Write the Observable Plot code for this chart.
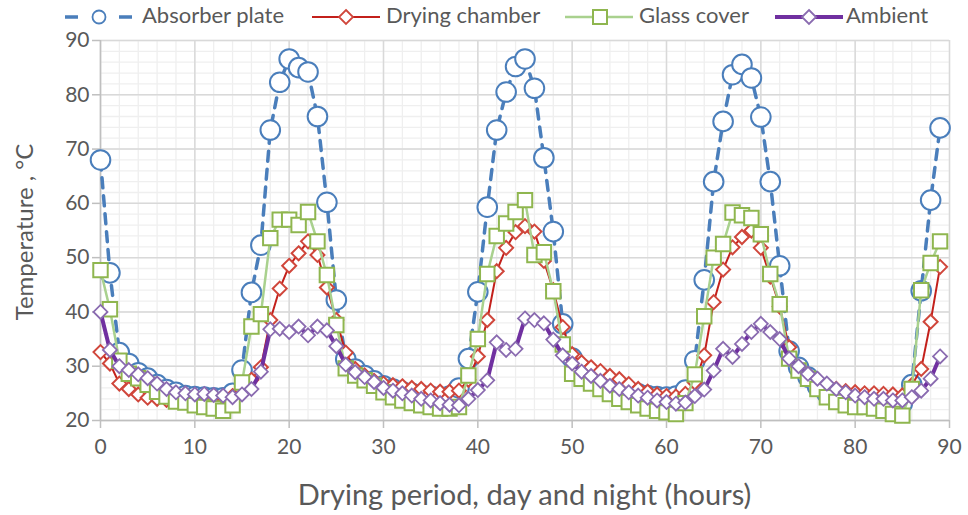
<!DOCTYPE html>
<html><head><meta charset="utf-8">
<script src="https://cdn.jsdelivr.net/npm/d3@7"></script>
<script src="https://cdn.jsdelivr.net/npm/@observablehq/plot@0.6"></script>
<style>
body{margin:0;background:#fff;font-family:Lato,"Open Sans",sans-serif;}
#wrap{position:relative;width:968px;height:515px;overflow:hidden;}
#legend{position:absolute;left:0;top:0;width:968px;height:36px;}
.lg{position:absolute;top:2px;font-size:22px;color:#595959;line-height:26px;white-space:nowrap;}
.sym{position:absolute;top:6px;}
#xtitle{position:absolute;left:100px;width:849px;top:476px;text-align:center;font-size:29px;line-height:36px;color:#595959;white-space:nowrap;}
#ytitle{position:absolute;left:23px;top:232px;transform:translate(-50%,-50%) rotate(-90deg);font-size:24px;color:#595959;white-space:nowrap;}
</style></head><body>
<div id="wrap"><div id="chart"></div><div id="legend"></div><div id="xtitle"></div><div id="ytitle"></div></div>
<script>
const hours = [0,1,2,3,4,5,6,7,8,9,10,11,12,13,14,15,16,17,18,19,20,21,22,23,24,25,26,27,28,29,30,31,32,33,34,35,36,37,38,39,40,41,42,43,44,45,46,47,48,49,50,51,52,53,54,55,56,57,58,59,60,61,62,63,64,65,66,67,68,69,70,71,72,73,74,75,76,77,78,79,80,81,82,83,84,85,86,87,88,89];
const absorberPlate = [68,47.2,32.5,30.5,28.8,27.8,26.6,25.7,25.2,24.6,24.4,24.3,24.2,24.2,25,29.3,43.6,52.3,73.5,82.3,86.6,85,84.2,76,60.2,42.2,31.3,29.5,28.3,27.3,26.4,25.8,25.3,25,24.7,24.5,24.3,24.5,26,31.4,43.7,59.3,73.5,80.5,85.2,86.6,81.2,68.4,54.8,37.8,31.5,29.5,28.3,27.3,26.5,25.8,25.3,24.9,24.6,24.4,24.3,24.5,25.6,31,45.9,64,75.1,83.7,85.6,83.1,75.9,64,48.5,32.8,29.8,28,26.3,25,24.2,23.5,23.2,23,22.8,22.8,22.8,23.2,26.6,43.9,60.6,73.9];
const dryingChamber = [32.6,30.5,26.8,25.8,24.8,24.2,24,23.8,23.8,23.8,24,24,24.2,24.2,24.5,25.5,27.5,29.8,38.5,44.3,48.5,50.8,53,50.5,44.5,38.5,32.5,29.5,28.3,27.3,26.8,26.5,26.3,26,25.8,25.5,25.3,25.3,25.5,27.5,31.8,38.5,47.5,51.8,54.7,55.8,54.8,49.4,44,37.2,32.2,30.7,29.8,29.1,28.2,27.6,26.7,25.8,25.3,24.8,24.5,24.4,24.9,27,32,41.8,47.8,51.9,53.8,55,51.8,46.5,41,33.5,29.8,28.5,27.5,26.5,25.8,25.4,25.2,25,25,24.9,24.8,24.6,26.5,29.5,38.2,48.3];
const glassCover = [47.7,40.5,31,28.6,27.8,26.6,25.3,24.4,23.5,23.3,22.8,22.5,22.2,21.8,22.8,27,37.3,39.6,53.6,57,57,56,58.4,53,46.8,37.6,29.6,28.3,27.4,26.4,25.2,24.3,23.7,23.2,22.8,22.5,22.2,22.2,22.5,28.3,35,47,54,56.3,58.4,60.6,50.5,51,43.8,34,28.6,27.7,26.8,25.8,24.9,24,23.4,22.8,22.2,21.8,21.5,21.2,23.2,28.5,39.2,50,52.5,58.3,57.8,57.3,54.3,47,41.4,31.4,29.2,27.7,25.8,24.3,23.4,22.8,22.5,22.5,22.2,21.8,21.2,20.9,25.8,44,49,53];
const ambient = [40,33,30,29.3,28.5,27.8,26.8,25.8,25.2,25,24.8,24.9,24.7,24.6,24.3,24.8,25.8,29,36.8,36.9,36.3,37.3,35.7,37.3,36.6,33.7,30.3,28.9,28,27.1,26,25.5,25,24.6,24,23.7,23.2,22.9,22.8,24,25.6,27.4,34.4,33,33.2,38.8,38.5,37.9,34.9,32,30.5,29,28.2,27.3,26.4,25.8,25.2,24.6,24.2,23.7,23.4,23.1,23.3,24.5,25.7,29.2,33.2,31.7,34.1,36.3,37.8,36.3,35,31.4,30,28.6,27.7,26.8,25.8,25.2,24.6,24.3,24,24,23.7,23.7,24.3,25.5,27.7,31.8];
const seriesNames = ["Absorber plate","Drying chamber","Glass cover","Ambient"];
const xTicks = [0,10,20,30,40,50,60,70,80,90];
const yTicks = [20,30,40,50,60,70,80,90];
const xTitle = "Drying period, day and night (hours)";
const yTitle = "Temperature , °C";

const minorX = d3.range(0, 91, 2);
const minorY = d3.range(20, 91, 2);
const rows = hours.map((h, i) => ({h, abs: absorberPlate[i], dry: dryingChamber[i], glass: glassCover[i], amb: ambient[i]}));

const C = {
  absLine: "#4a7ebb", absMark: "#4a7ebb",
  dryLine: "#c3201b", dryMark: "#d0463b",
  glassLine: "#a9d18e", glassMark: "#8fb64f",
  ambLine: "#7030a0", ambMark: "#8a6bb0"
};

const chart = Plot.plot({
  width: 968, height: 515,
  marginLeft: 100, marginRight: 19, marginTop: 40, marginBottom: 95,
  style: {fontFamily: "Lato, 'Open Sans', sans-serif", background: "#fff", overflow: "visible"},
  x: {domain: [0, 90]},
  y: {domain: [20, 90]},
  marks: [
    Plot.gridX(minorX, {stroke: "#efefef", strokeOpacity: 1, strokeWidth: 1.3}),
    Plot.gridY(minorY, {stroke: "#efefef", strokeOpacity: 1, strokeWidth: 1.3}),
    Plot.gridX(xTicks, {stroke: "#d9d9d9", strokeOpacity: 1, strokeWidth: 1.5}),
    Plot.gridY(yTicks, {stroke: "#d9d9d9", strokeOpacity: 1, strokeWidth: 1.5}),
    Plot.ruleX([0], {stroke: "#bfbfbf", strokeWidth: 1.5}),
    Plot.ruleY([20], {stroke: "#bfbfbf", strokeWidth: 1.5}),
    Plot.axisX({ticks: xTicks, tickSize: 8, tickPadding: 11, fontSize: 21, stroke: "#bfbfbf", fill: "#595959", strokeWidth: 1.5, label: null}),
    Plot.axisY({ticks: yTicks, tickSize: 8, tickPadding: 3, fontSize: 21, stroke: "#bfbfbf", fill: "#595959", strokeWidth: 1.5, label: null}),
    Plot.line(rows, {x: "h", y: "abs", stroke: C.absLine, strokeWidth: 3.5, strokeDasharray: "10,8"}),
    Plot.dot(rows, {x: "h", y: "abs", r: 9.8, stroke: C.absMark, strokeWidth: 2, fill: "white"}),
    Plot.line(rows, {x: "h", y: "dry", stroke: C.dryLine, strokeWidth: 2}),
    Plot.dot(rows, {x: "h", y: "dry", symbol: "diamond2", r: 6.3, stroke: C.dryMark, strokeWidth: 2, fill: "white"}),
    Plot.line(rows, {x: "h", y: "glass", stroke: C.glassLine, strokeWidth: 2.5}),
    Plot.dot(rows, {x: "h", y: "glass", symbol: "square2", r: 9.2, stroke: C.glassMark, strokeWidth: 2, fill: "white"}),
    Plot.line(rows, {x: "h", y: "amb", stroke: C.ambLine, strokeWidth: 4}),
    Plot.dot(rows, {x: "h", y: "amb", symbol: "diamond2", r: 6.3, stroke: C.ambMark, strokeWidth: 1.8, fill: "white"})
  ]
});
document.getElementById("chart").appendChild(chart);
document.getElementById("xtitle").textContent = xTitle;
document.getElementById("ytitle").textContent = yTitle;

// legend
const legend = document.getElementById("legend");
const legendItems = [
  {name: seriesNames[0], sx: 62, tx: 142, kind: "abs"},
  {name: seriesNames[1], sx: 310, tx: 386, kind: "dry"},
  {name: seriesNames[2], sx: 563, tx: 639, kind: "glass"},
  {name: seriesNames[3], sx: 773, tx: 846, kind: "amb"}
];
const ns = "http://www.w3.org/2000/svg";
for (const it of legendItems) {
  const svg = document.createElementNS(ns, "svg");
  svg.setAttribute("width", 72); svg.setAttribute("height", 22);
  svg.setAttribute("class", "sym");
  svg.style.left = it.sx + "px";
  let inner = "";
  if (it.kind === "abs") {
    inner = `<line x1="3" x2="71" y1="11" y2="11" stroke="${C.absLine}" stroke-width="3.5" stroke-dasharray="13,14"/>` +
            `<circle cx="37" cy="11" r="6.5" fill="white" stroke="${C.absMark}" stroke-width="1.8"/>`;
  } else if (it.kind === "dry") {
    inner = `<line x1="2" x2="70" y1="11" y2="11" stroke="${C.dryLine}" stroke-width="2"/>` +
            `<path d="M36,4 L43,11 L36,18 L29,11Z" fill="white" stroke="${C.dryMark}" stroke-width="1.8"/>`;
  } else if (it.kind === "glass") {
    inner = `<line x1="2" x2="70" y1="11" y2="11" stroke="${C.glassLine}" stroke-width="2.5"/>` +
            `<rect x="30" y="4" width="14" height="14" fill="white" stroke="${C.glassMark}" stroke-width="2"/>`;
  } else {
    inner = `<line x1="2" x2="70" y1="11" y2="11" stroke="${C.ambLine}" stroke-width="4"/>` +
            `<path d="M36,4 L43,11 L36,18 L29,11Z" fill="white" stroke="${C.ambMark}" stroke-width="1.8"/>`;
  }
  svg.innerHTML = inner;
  legend.appendChild(svg);
  const t = document.createElement("div");
  t.className = "lg"; t.style.left = it.tx + "px"; t.textContent = it.name;
  legend.appendChild(t);
}
</script>
</body></html>
